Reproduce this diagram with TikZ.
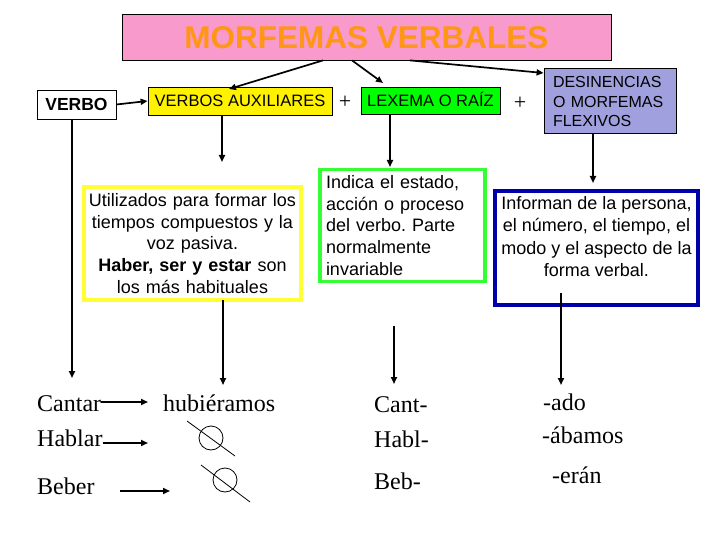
\documentclass[tikz,border=0pt]{standalone}
\usepackage{fontspec}
\setmainfont{Liberation Serif}
\setsansfont{Liberation Sans}
\usetikzlibrary{arrows.meta}
\frenchspacing
\definecolor{titlepink}{RGB}{248,154,204}
\definecolor{titleorange}{RGB}{255,150,20}
\definecolor{lav}{RGB}{160,160,222}
\definecolor{navyline}{RGB}{0,0,170}
\definecolor{greenline}{RGB}{51,255,51}
\definecolor{yellowline}{RGB}{255,255,51}
\begin{document}
\begin{tikzpicture}[x=1pt,y=-1pt,
  conn/.style={line width=1.7pt,-{Triangle[length=7pt,width=6pt]}},
  topbox/.style={draw=black,line width=0.8pt,inner sep=0pt,text height=11.8pt,text depth=0pt,
    font=\sffamily\fontsize{16.5}{19.5}\selectfont},
  infobox/.style={line width=3.5pt,inner sep=0pt,
    font=\sffamily\fontsize{18}{21.7}\selectfont},
  word/.style={anchor=base west,inner sep=0pt,font=\rmfamily\fontsize{24}{28}\selectfont},
  nullsign/.style={draw=black,line width=0.8pt,circle,minimum size=24pt,inner sep=0pt}
]
\useasboundingbox (0,0) rectangle (720,540);
\fill[white] (0,0) rectangle (720,540);

% title
\node[draw=black,line width=0.8pt,fill=titlepink,minimum width=489pt,minimum height=46pt,inner sep=0pt,
  text height=22.6pt,text depth=0pt,text=titleorange,font=\sffamily\bfseries\fontsize{31.5}{36}\selectfont]
  (title) at (366.5,37) {MORFEMAS VERBALES};

% top row
\node[topbox,font=\sffamily\bfseries\fontsize{17.5}{20}\selectfont,text height=12.5pt,
  minimum width=79pt,minimum height=29pt] (verbo) at (76.5,104.5) {VERBO};
\node[topbox,fill=yellow,minimum width=184pt,minimum height=28pt] (aux) at (240,101) {VERBOS AUXILIARES};
\node[topbox,fill=green,minimum width=139pt,minimum height=27pt] (lex) at (430.5,100.5) {LEXEMA O RAÍZ};
\node[draw=black,line width=0.8pt,fill=lav,minimum width=132pt,minimum height=65pt,inner sep=0pt]
  (desin) at (610,100.5) {};
\node[align=left,text width=114pt,inner sep=0pt,font=\sffamily\fontsize{16}{19.3}\selectfont]
  (desintxt) at (610,101.5) {DESINENCIAS\\O MORFEMAS\\FLEXIVOS};
\node[inner sep=0pt,font=\rmfamily\fontsize{22}{24}\selectfont] (plus1) at (345,102) {+};
\node[inner sep=0pt,font=\rmfamily\fontsize{22}{24}\selectfont] (plus2) at (520,103) {+};

% info boxes
\node[infobox,draw=yellowline,minimum width=217pt,minimum height=113pt,align=center,text width=215pt]
  (auxinfo) at (192.5,243.5) {Utilizados para formar los\\tiempos compuestos y la\\voz pasiva.\\
  \textbf{Haber, ser y estar} son\\los más habituales};
\node[infobox,draw=greenline,minimum width=165pt,minimum height=112pt,align=left,text width=153pt]
  (lexinfo) at (402.5,225.5) {Indica el estado,\\acción o proceso\\del verbo. Parte\\normalmente\\invariable};
\node[infobox,draw=navyline,minimum width=203pt,minimum height=114pt] (desininfo) at (596.5,248) {};
\node[align=center,inner sep=0pt,font=\sffamily\fontsize{18}{22.4}\selectfont]
  (desintext) at (596.5,236.5) {Informan de la persona,\\el número, el tiempo, el\\modo y el aspecto de la\\forma verbal.};

% arrows from title
\draw[conn] (title.south -| 323,0) -- (229,89);
\draw[conn] (title.south -| 352,0) -- (383,83);
\draw[conn] (title.south -| 410,0) -- (desin.west |- 0,73);
\draw[conn] (verbo.east) -- (aux.west);

% downward arrows
\coordinate (d1) at (72,378);
\coordinate (d2) at (222,162);
\coordinate (d3) at (223,385);
\coordinate (d4) at (390,167);
\coordinate (g0) at (394,326);
\coordinate (d5) at (394,384);
\coordinate (d6) at (593,183);
\coordinate (b0) at (561,293);
\coordinate (d7) at (561,385);
\draw[conn] (d1 |- verbo.south) -- (d1);
\draw[conn] (d2 |- aux.south) -- (d2);
\draw[conn] (d3 |- auxinfo.south) ++(0,-1.5) -- (d3);
\draw[conn] (d4 |- lex.south) -- (d4);
\draw[conn] (g0) -- (d5);
\draw[conn] (d6 |- desin.south) -- (d6);
\draw[conn] (b0) -- (d7);

% examples
\node[word] (cantar) at (37,411) {Cantar};
\node[word] (hablar) at (37,446) {Hablar};
\node[word] (beber) at (37,494) {Beber};
\node[word] (hub) at (163,411) {hubiéramos};
\node[word] (cant) at (374,412) {Cant-};
\node[word] (habl) at (374,447) {Habl-};
\node[word] (beb) at (374,489) {Beb-};
\node[word] (ado) at (543,410) {-ado};
\node[word] (abamos) at (542,443) {-ábamos};
\node[word] (eran) at (552,483) {-erán};

\coordinate (e1) at (148,402);
\coordinate (e2) at (148,443);
\coordinate (e3s) at (120,491);
\coordinate (e3) at (170,491);
\draw[conn] (cantar.east |- e1) -- (e1);
\draw[conn] (hablar.east |- e2) -- (e2);
\draw[conn] (e3s) -- (e3);

\node[nullsign] (null1) at (211,438) {};
\draw[line width=0.8pt] (null1) ++(-24,-17) -- ++(48,35);
\node[nullsign] (null2) at (225,480) {};
\draw[line width=0.8pt] (null2) ++(-24,-15) -- ++(49,37);
\end{tikzpicture}
\end{document}
